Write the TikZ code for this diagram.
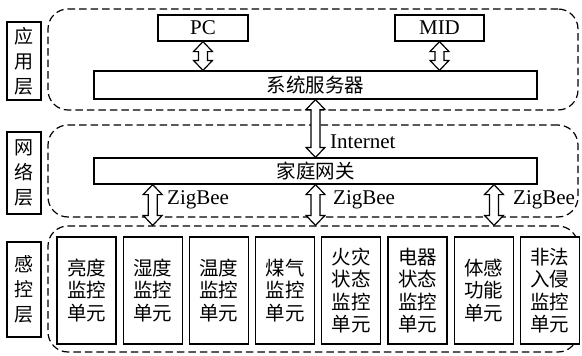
\documentclass[tikz,border=0pt]{standalone}
\usepackage{fontspec}
\setmainfont{Liberation Serif}
\newfontfamily\cjk{Noto Sans CJK SC}
\usetikzlibrary{positioning,calc}
\begin{document}
\begin{tikzpicture}[x=1pt,y=-1pt]
    % Define Styles
        \tikzstyle{layer} = [
            rectangle,
            draw,
            dash pattern = on 7.5pt off 4pt,
            rounded corners = 20pt,
            line width = 1.2pt,
            minimum width = 530pt
        ]
        \tikzstyle{layerlabel} = [
            rectangle,
            draw,
            line width = 1.2pt,
            align = center,
            minimum width = 34pt,
            inner sep = 0pt,
            font = \cjk\fontsize{19pt}{25pt}\selectfont
        ]
        \tikzstyle{block} = [
            rectangle,
            draw,
            fill = white,
            line width = 1.2pt,
            align = center,
            inner sep = 0pt,
            font = \fontsize{21pt}{24pt}\selectfont
        ]
        \tikzstyle{unit} = [
            block,
            minimum width = 59pt,
            minimum height = 107pt,
            font = \cjk\fontsize{19.5pt}{22.5pt}\selectfont
        ]
        \tikzstyle{tag} = [
            anchor = west,
            inner sep = 0pt,
            font = \fontsize{21pt}{24pt}\selectfont
        ]
        \tikzstyle{dblarrow} = [
            draw,
            fill = white,
            line width = 1.2pt,
            to path = {
                let \p1 = (\tikztostart), \p2 = (\tikztotarget) in
                (\x1,\y1) -- (\x1+9.5pt,\y1-10pt) -- (\x1+4.5pt,\y1-10pt)
                -- (\x1+4.5pt,\y2+10pt) -- (\x1+9.5pt,\y2+10pt) -- (\x1,\y2)
                -- (\x1-9.5pt,\y2+10pt) -- (\x1-4.5pt,\y2+10pt)
                -- (\x1-4.5pt,\y1-10pt) -- (\x1-9.5pt,\y1-10pt) -- cycle
            }
        ]
    \useasboundingbox (0,0) rectangle (582,356);
    % Place layers
        \node [layer, minimum height = 101pt] (app) at (313,59.5) {};
        \node [layer, minimum height = 92pt] (net) at (313,171) {};
        \node [layer, minimum height = 126pt] (sense) at (313,289) {};
        \node [layerlabel, minimum height = 78pt] (applabel) at (24,61) {应\\用\\层};
        \node [layerlabel, minimum height = 82pt] (netlabel) at (24,173) {网\\络\\层};
        \node [layerlabel, minimum height = 95pt] (senselabel) at (24,289.5) {感\\控\\层};
    % Place nodes
        \node [block, minimum width = 90pt, minimum height = 26pt] (pc) at (203,28) {PC};
        \node [block, minimum width = 89pt, minimum height = 26pt] (mid) at (439.5,28) {MID};
        \node [block, minimum width = 443pt, minimum height = 28pt,
            font = \cjk\fontsize{19.5pt}{22pt}\selectfont] (server) at (315.5,85) {系统服务器};
        \node [block, minimum width = 443pt, minimum height = 26pt,
            font = \cjk\fontsize{19.5pt}{22pt}\selectfont] (gateway) at (315.5,171) {家庭网关};
        \node [unit] (u1) at (86.5,290.5) {亮度\\监控\\单元};
        \node [unit, right = 6pt of u1] (u2) {湿度\\监控\\单元};
        \node [unit, right = 6pt of u2] (u3) {温度\\监控\\单元};
        \node [unit, right = 6pt of u3] (u4) {煤气\\监控\\单元};
        \node [unit, right = 6pt of u4] (u5) {火灾\\状态\\监控\\单元};
        \node [unit, right = 6pt of u5] (u6) {电器\\状态\\监控\\单元};
        \node [unit, right = 6pt of u6] (u7) {体感\\功能\\单元};
        \node [unit, right = 6pt of u7] (u8) {非法\\入侵\\监控\\单元};
        \coordinate (zbright) at (494,0);
    % Draw edges
        \path [dblarrow] (pc.south) to (pc.south |- server.north);
        \path [dblarrow] (mid.south) to (mid.south |- server.north);
        \path [dblarrow] (server.south) to (gateway.north);
        \path [dblarrow] (gateway.south -| u2.north) to (u2.north |- sense.north);
        \path [dblarrow] (gateway.south) to (gateway.south |- sense.north);
        \path [dblarrow] (gateway.south -| zbright) to (zbright |- sense.north);
    % Labels
        \node [tag] (inet) at (330,142) {Internet};
        \node [tag] (zb1) at (167,200) {ZigBee};
        \node [tag] (zb2) at (333,200) {ZigBee};
        \node [tag] (zb3) at (513,200) {ZigBee};
\end{tikzpicture}
\end{document}
